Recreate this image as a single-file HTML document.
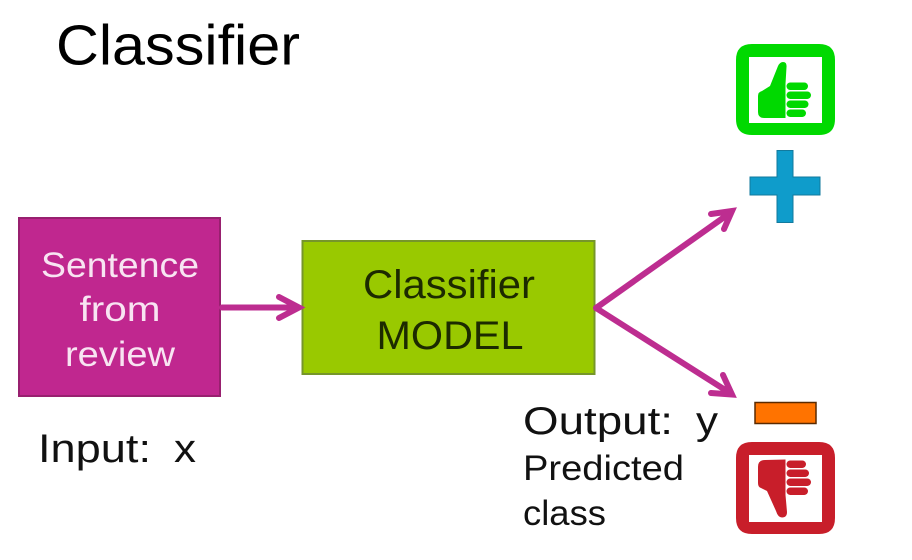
<!DOCTYPE html>
<html><head><meta charset="utf-8"><style>html,body{margin:0;padding:0;background:#fff}svg{display:block}text{font-family:"Liberation Sans",sans-serif}</style></head><body>
<svg width="912" height="560" viewBox="0 0 912 560" xmlns="http://www.w3.org/2000/svg">
<rect width="912" height="560" fill="#fff"/>
<text x="56" y="64.500" font-size="57" fill="#000" textLength="244" lengthAdjust="spacingAndGlyphs">Classifier</text>
<rect x="19" y="218" width="201" height="178" fill="#c0278f" stroke="#98206f" stroke-width="2"/>
<text x="120" y="277" font-size="35" fill="#f8e4f2" text-anchor="middle" textLength="158" lengthAdjust="spacingAndGlyphs">Sentence</text>
<text x="120" y="321" font-size="35" fill="#f8e4f2" text-anchor="middle" textLength="81" lengthAdjust="spacingAndGlyphs">from</text>
<text x="120" y="366" font-size="35" fill="#f8e4f2" text-anchor="middle" textLength="110" lengthAdjust="spacingAndGlyphs">review</text>
<rect x="302.500" y="241" width="292" height="133" fill="#99c900" stroke="#76962a" stroke-width="2"/>
<text x="449" y="298" font-size="40" fill="#1c2a00" text-anchor="middle" textLength="172" lengthAdjust="spacingAndGlyphs">Classifier</text>
<text x="450" y="349" font-size="40" fill="#1c2a00" text-anchor="middle" textLength="147" lengthAdjust="spacingAndGlyphs">MODEL</text>
<g stroke="#bd2d90" stroke-width="6" fill="none" stroke-linecap="round" stroke-linejoin="miter">
<path d="M222 307.500H297M279 297L299 307.500L279 318"/>
<path d="M596 308L730 213M711 214L732 211L724 229"/>
<path d="M596 308L730 393M711 393L732 394.500L723 375"/>
</g>
<text x="38" y="462" font-size="40" fill="#111" textLength="113" lengthAdjust="spacingAndGlyphs">Input:</text>
<text x="174" y="462" font-size="40" fill="#111" textLength="22" lengthAdjust="spacingAndGlyphs">x</text>
<text x="523" y="434" font-size="39" fill="#111" textLength="150" lengthAdjust="spacingAndGlyphs">Output:</text>
<text x="696" y="434" font-size="39" fill="#111" textLength="22" lengthAdjust="spacingAndGlyphs">y</text>
<text x="523" y="480" font-size="35" fill="#111" textLength="161" lengthAdjust="spacingAndGlyphs">Predicted</text>
<text x="523" y="525" font-size="35" fill="#111" textLength="83" lengthAdjust="spacingAndGlyphs">class</text>
<path fill="#00d900" fill-rule="evenodd" d="M752 44H819Q835 44 835 60V119Q835 135 819 135H752Q736 135 736 119V60Q736 44 752 44ZM749 57V123H822V57Z"/>
<path fill="#00d900" d="M758 96Q758 92 762 91L770 86L778 66Q780 62 783 62Q787 62 786.500 67L785.500 84V118H764Q758 118 758 112Z"/>
<g fill="#00d900"><rect x="786.500" y="82.500" width="21.500" height="7.500" rx="3.700"/><rect x="786.500" y="91.500" width="24.500" height="7.500" rx="3.700"/><rect x="786.500" y="100.500" width="22" height="7.500" rx="3.700"/><rect x="786.500" y="109.500" width="19.500" height="7.500" rx="3.700"/></g>
<path fill="#0f9ccb" stroke="#127a9e" stroke-width="1" d="M777 150.500H793V177H820V195H793V222.500H777V195H750V177H777Z"/>
<rect x="755" y="402.500" width="61" height="21" fill="#ff7300" stroke="#5a2a00" stroke-width="1.500"/>
<path fill="#c81e2a" fill-rule="evenodd" d="M752 442H819Q835 442 835 458V518Q835 534 819 534H752Q736 534 736 518V458Q736 442 752 442ZM749 455V522H822V455Z"/>
<path fill="#c81e2a" d="M758 467Q758 460 765 460L785.500 459.500V495L787 512Q787 517.500 782 517.500Q778 517.500 776 511L767 491L761 488Q758 487 758 483Z"/>
<g fill="#c81e2a"><rect x="786.500" y="460.500" width="19.500" height="7.500" rx="3.700"/><rect x="786.500" y="469.500" width="22.500" height="7.500" rx="3.700"/><rect x="786.500" y="478.500" width="24.500" height="7.500" rx="3.700"/><rect x="786.500" y="487.500" width="21.500" height="7.500" rx="3.700"/></g>
</svg>
</body></html>
